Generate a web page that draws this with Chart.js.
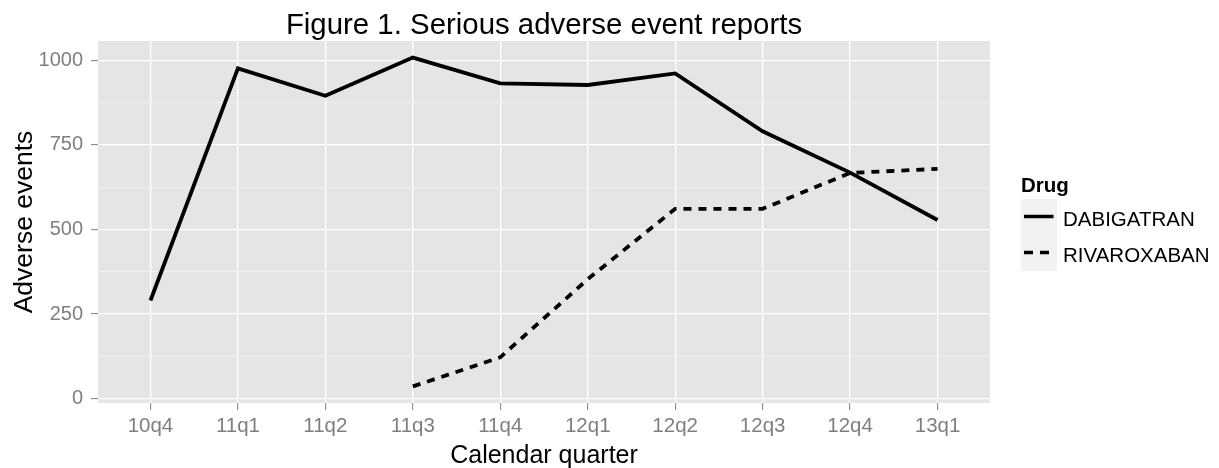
<!DOCTYPE html>
<html>
<head>
<meta charset="utf-8">
<title>Serious adverse event reports</title>
<script src="https://cdn.jsdelivr.net/npm/chart.js@4.4.1/dist/chart.umd.min.js"></script>
<style>
  body { margin: 0; background: #ffffff; }
  #wrap { width: 1219px; height: 468px; }
</style>
</head>
<body>
<div id="wrap"><canvas id="myChart" width="1219" height="468"></canvas></div>
<script>
// data
const quarters = ['10q4', '11q1', '11q2', '11q3', '11q4', '12q1', '12q2', '12q3', '12q4', '13q1'];
const dabigatran = [290, 976, 895, 1008, 932, 927, 961, 790, 668, 528];
const rivaroxaban = [null, null, null, 36, 122, 353, 561, 561, 667, 679];
const yTicks = [0, 250, 500, 750, 1000];
const yMinorTicks = [125, 375, 625, 875];

const FONT = '"Liberation Sans", Arial, Helvetica, sans-serif';
const GREY_TEXT = '#7f7f7f';

const toPoints = values => values.map((v, i) => ({ x: i, y: v }));

// ggplot style extras: title, axis titles, legend
const ggExtras = {
  id: 'ggExtras',
  afterDraw(chart) {
    const ctx = chart.ctx;
    const area = chart.chartArea;
    ctx.save();
    ctx.fillStyle = '#000000';

    // plot title
    ctx.font = '29.4px ' + FONT;
    ctx.textAlign = 'center';
    ctx.textBaseline = 'alphabetic';
    ctx.fillText('Figure 1. Serious adverse event reports', (area.left + area.right) / 2, 34);

    // x axis title
    ctx.font = '25px ' + FONT;
    ctx.fillText('Calendar quarter', (area.left + area.right) / 2, 463);

    // y axis title
    ctx.save();
    ctx.translate(31.5, (area.top + area.bottom) / 2);
    ctx.rotate(-Math.PI / 2);
    ctx.font = '26.5px ' + FONT;
    ctx.fillText('Adverse events', 0, 0);
    ctx.restore();

    // legend
    const lx = area.right + 31;
    ctx.textAlign = 'left';
    ctx.font = 'bold 20.5px ' + FONT;
    ctx.fillText('Drug', lx, 191.5);

    const keys = [
      { label: 'DABIGATRAN', dash: [] },
      { label: 'RIVAROXABAN', dash: [9, 7] }
    ];
    keys.forEach((k, i) => {
      const top = 199 + i * 36;
      ctx.fillStyle = '#f2f2f2';
      ctx.fillRect(lx, top, 36, 36);
      ctx.strokeStyle = '#000000';
      ctx.lineWidth = 3.5;
      ctx.lineCap = 'butt';
      ctx.setLineDash(k.dash);
      ctx.beginPath();
      ctx.moveTo(lx + 3, top + 17.5);
      ctx.lineTo(lx + 32.5, top + 17.5);
      ctx.stroke();
      ctx.setLineDash([]);
      ctx.fillStyle = '#000000';
      ctx.font = '20.5px ' + FONT;
      ctx.fillText(k.label, lx + 42, top + 27);
    });
    ctx.restore();
  }
};

// grey panel behind the grid
const panelBg = {
  id: 'panelBg',
  beforeDraw(chart) {
    const { ctx, chartArea: a } = chart;
    ctx.save();
    ctx.fillStyle = '#e5e5e5';
    ctx.fillRect(a.left, a.top, a.right - a.left, a.bottom - a.top);
    ctx.restore();
  }
};

const isMajor = v => yTicks.includes(v);

new Chart(document.getElementById('myChart').getContext('2d'), {
  type: 'line',
  data: {
    datasets: [
      {
        label: 'DABIGATRAN',
        data: toPoints(dabigatran),
        borderColor: '#000000',
        borderWidth: 3.8,
        pointRadius: 0,
        borderCapStyle: 'butt',
        tension: 0
      },
      {
        label: 'RIVAROXABAN',
        data: toPoints(rivaroxaban),
        borderColor: '#000000',
        borderWidth: 3.8,
        borderDash: [8, 7],
        pointRadius: 0,
        borderCapStyle: 'butt',
        tension: 0
      }
    ]
  },
  options: {
    responsive: false,
    animation: false,
    layout: { padding: { left: 0, right: 229, top: 41, bottom: 0 } },
    plugins: {
      legend: { display: false },
      title: { display: false },
      tooltip: { enabled: false }
    },
    scales: {
      x: {
        type: 'linear',
        min: -0.6,
        max: quarters.length - 1 + 0.6,
        afterBuildTicks: scale => { scale.ticks = quarters.map((q, i) => ({ value: i })); },
        afterFit: scale => { scale.height = 65; },
        border: { display: false },
        grid: {
          color: '#ffffff',
          lineWidth: 1.3,
          tickColor: GREY_TEXT,
          tickLength: 7,
          tickWidth: 1
        },
        ticks: {
          color: GREY_TEXT,
          font: { family: FONT, size: 20.5 },
          padding: 4,
          maxRotation: 0,
          autoSkip: false,
          callback: v => quarters[v]
        }
      },
      y: {
        min: -13,
        max: 1057,
        afterBuildTicks: scale => {
          scale.ticks = yTicks.concat(yMinorTicks).sort((a, b) => a - b).map(v => ({ value: v }));
        },
        afterFit: scale => { scale.width = 98; },
        border: { display: false },
        grid: {
          color: ctx => isMajor(ctx.tick.value) ? '#ffffff' : '#f2f2f2',
          lineWidth: ctx => isMajor(ctx.tick.value) ? 1.3 : 0.8,
          tickColor: ctx => isMajor(ctx.tick.value) ? GREY_TEXT : 'rgba(0,0,0,0)',
          tickLength: 7,
          tickWidth: 1
        },
        ticks: {
          color: GREY_TEXT,
          font: { family: FONT, size: 20 },
          padding: 8,
          autoSkip: false,
          callback: v => isMajor(v) ? String(v) : ''
        }
      }
    }
  },
  plugins: [panelBg, ggExtras]
});
</script>
</body>
</html>
